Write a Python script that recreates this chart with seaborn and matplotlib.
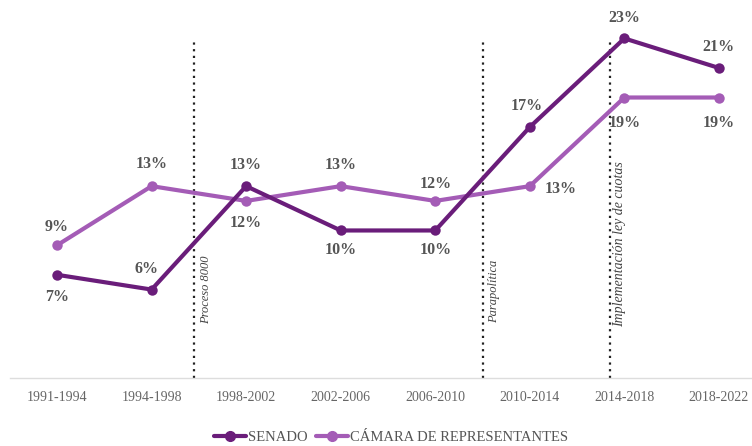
import matplotlib
matplotlib.use("Agg")
import matplotlib.pyplot as plt
import seaborn as sns
from matplotlib.lines import Line2D

periods = ["1991-1994", "1994-1998", "1998-2002", "2002-2006",
           "2006-2010", "2010-2014", "2014-2018", "2018-2022"]
senado = [7, 6, 13, 10, 10, 17, 23, 21]
camara = [9, 13, 12, 13, 12, 13, 19, 19]
events = ["Proceso 8000", "Parapolítica", "Implementación ley de cuotas"]
event_pos = [1.45, 4.5, 5.85]

sns.set_theme(style="white")
plt.rcParams["font.family"] = ["Liberation Serif", "DejaVu Serif"]

c_sen = "#6a1d7a"
c_cam = "#a45cb6"

fig = plt.figure(figsize=(7.52, 4.46), dpi=100)
ax = fig.add_axes([0.013, 0.152, 0.987, 0.795])

x = list(range(len(periods)))
sns.lineplot(x=x, y=camara, ax=ax, color=c_cam, lw=3, marker="o",
             markersize=7.5, markeredgewidth=0, zorder=3)
sns.lineplot(x=x, y=senado, ax=ax, color=c_sen, lw=3, marker="o",
             markersize=7.5, markeredgewidth=0, zorder=4)

ax.set_xlim(-0.5, 7.35)
ax.set_ylim(0, 24)

for xp in event_pos:
    ax.plot([xp, xp], [0, 23], ls=(0, (1, 2)), color="#222222", lw=1.6, zorder=2)

txt_kw = dict(rotation=90, ha="center", va="center", fontsize=9,
              style="italic", color="#444444")
ax.text(1.58, 6.0, events[0], **txt_kw)
ax.text(4.62, 5.9, events[1], **txt_kw)
txt_kw["fontsize"] = 10
ax.text(5.95, 9.1, events[2], **txt_kw)

sen_off = [(0, -16), (-4, 15), (0, 15), (0, -14), (0, -14), (-2, 15), (0, 15), (0, 15)]
cam_off = [(0, 13), (0, 16), (0, -16), (0, 15), (0, 12), (22, -2), (0, -18), (0, -18)]
lab_kw = dict(textcoords="offset points", ha="center", va="center",
              fontsize=11.5, fontweight="bold", color="#555555")
for xi, v, off in zip(x, senado, sen_off):
    ax.annotate(f"{v}%", (xi, v), xytext=off, **lab_kw)
for xi, v, off in zip(x, camara, cam_off):
    ax.annotate(f"{v}%", (xi, v), xytext=off, **lab_kw)

ax.set_xticks(x)
ax.set_xticklabels(periods, fontsize=10, color="#666666")
ax.tick_params(axis="x", length=0, pad=9)
ax.set_yticks([])
for s in ["top", "right", "left"]:
    ax.spines[s].set_visible(False)
ax.spines["bottom"].set_color("#dddddd")
ax.spines["bottom"].set_linewidth(1)

handles = [Line2D([0], [0], color=c_sen, lw=3, marker="o", markersize=7),
           Line2D([0], [0], color=c_cam, lw=3, marker="o", markersize=7)]
fig.legend(handles, ["SENADO", "CÁMARA DE REPRESENTANTES"], loc="center",
           bbox_to_anchor=(0.52, 0.02), ncol=2, frameon=False, fontsize=10.5,
           labelcolor="#555555", handlelength=2.2, handletextpad=0.1,
           columnspacing=0.6)

fig.savefig("out.png", dpi=100)
